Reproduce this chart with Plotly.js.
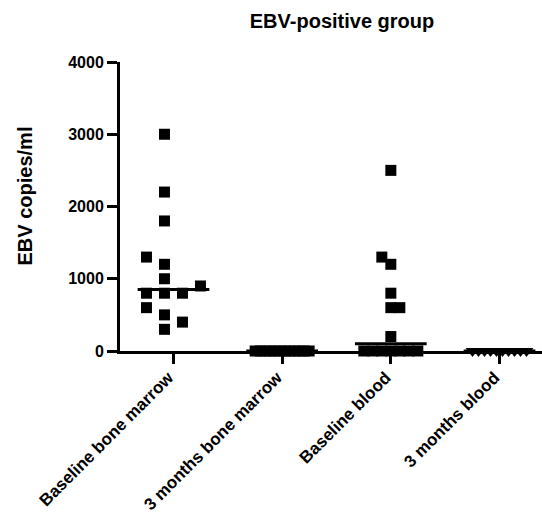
<!DOCTYPE html>
<html>
<head>
<meta charset="utf-8">
<script src="https://cdn.plot.ly/plotly-3.0.1.min.js"></script>
<style>html,body{margin:0;padding:0;background:#fff;}#chart{width:542px;height:515px;}</style>
</head>
<body>
<div id="chart"></div>
<script>
// ---- data ----
const categories = ["Baseline bone marrow", "3 months bone marrow", "Baseline blood", "3 months blood"];
const baselineMarrow = [3000, 2200, 1800, 1300, 1200, 1000, 900, 800, 800, 800, 600, 500, 400, 300];
const monthsMarrow = [0, 0, 0, 0, 0, 0, 0, 0, 0, 0, 0, 0];
const baselineBlood = [2500, 1300, 1200, 800, 600, 600, 200, 0, 0, 0, 0, 0, 0, 0];
const monthsBlood = [0, 0, 0, 0, 0, 0, 0, 0, 0, 0];
const yTicks = [0, 1000, 2000, 3000, 4000];
const title = "EBV-positive group";
const yTitle = "EBV copies/ml";

// ---- layout geometry ----
const W = 542, H = 515;
const M = {l: 120, r: 0, t: 62, b: 164};
const plotW = W - M.l - M.r, plotH = H - M.t - M.b;
const xRange = [-0.492, 3.391];
const yRange = [0, 4000];
const pxPerCat = plotW / (xRange[1] - xRange[0]);
const pxPerY = plotH / (yRange[1] - yRange[0]);

// deterministic beeswarm spread (pixels -> category units)
function swarm(vals, step, vth, maxHalf) {
  const idx = vals.map((v, i) => i).sort((a, b) => vals[a] - vals[b]);
  const placed = [], out = new Array(vals.length);
  let pos = 0, neg = 0;
  for (const i of idx) {
    const y = vals[i] * pxPerY;
    const near = placed.filter(p => Math.abs(p.y - y) < vth);
    const cands = [0];
    near.forEach(p => cands.push(p.x + step, p.x - step));
    const ok = cands.filter(c => near.every(p => Math.abs(p.x - c) >= step - 1e-9));
    ok.sort((a, b) => (Math.abs(a) - Math.abs(b)) || (pos <= neg ? b - a : a - b));
    const x = ok[0];
    if (x > 0) pos++; else if (x < 0) neg++;
    placed.push({x, y}); out[i] = x;
  }
  const mn = Math.min(...out), mx = Math.max(...out);
  const half = Math.max(Math.abs(mn), Math.abs(mx));
  let res = out;
  if (half > maxHalf) {
    const c = (mn + mx) / 2, k = maxHalf / ((mx - mn) / 2);
    res = out.map(x => (x - c) * k);
  }
  return res.map(x => x / pxPerCat);
}
function median(a) {
  const s = [...a].sort((x, y) => x - y), n = s.length;
  return n % 2 ? s[(n - 1) / 2] : (s[n / 2 - 1] + s[n / 2]) / 2;
}

const groups = [baselineMarrow, monthsMarrow, baselineBlood, monthsBlood];
const symbols = ["square", "square", "square", "triangle-down"];
const traces = [];
groups.forEach((g, ci) => {
  const off = swarm(g, 14, 10.5, 27);
  traces.push({
    type: "scatter", mode: "markers", cliponaxis: false, showlegend: false,
    x: g.map((v, i) => ci + off[i]), y: g,
    marker: {symbol: symbols[ci], size: ci === 3 ? 12 : 11, color: "#000", line: {width: 0}},
    hoverinfo: "y"
  });
  const m = median(g);
  traces.push({
    type: "scatter", mode: "lines", cliponaxis: false, showlegend: false,
    x: [ci - 0.33, ci + 0.33], y: [m, m],
    line: {color: "#000", width: 3}, hoverinfo: "skip"
  });
});

const FONT = "Liberation Sans, Arial, Helvetica, sans-serif";
const layout = {
  width: W, height: H,
  margin: M,
  paper_bgcolor: "#fff", plot_bgcolor: "#fff",
  showlegend: false,
  title: {
    text: title, x: 342 / W, xref: "container", xanchor: "center",
    y: 1 - 21 / H, yref: "container", yanchor: "middle",
    font: {family: FONT, size: 20, weight: "bold", color: "#000"}
  },
  xaxis: {
    range: xRange, type: "linear",
    tickmode: "array", tickvals: categories.map((c, i) => i), ticktext: categories,
    tickangle: -45, ticks: "outside", ticklen: 10, tickwidth: 3, tickcolor: "#000",
    ticklabelshift: -5, ticklabelstandoff: -3,
    showline: true, linewidth: 3, linecolor: "#000", mirror: false,
    showgrid: false, zeroline: false, layer: "below traces",
    tickfont: {family: FONT, size: 17, weight: "bold", color: "#000"}
  },
  yaxis: {
    range: yRange, tickmode: "array", tickvals: yTicks, ticktext: yTicks.map(String),
    ticks: "outside", ticklen: 10, tickwidth: 3, tickcolor: "#000",
    showline: true, linewidth: 3, linecolor: "#000",
    showgrid: false, zeroline: false, layer: "below traces",
    tickfont: {family: FONT, size: 16, weight: "bold", color: "#000"}
  },
  annotations: [{
    text: yTitle, textangle: -90, showarrow: false,
    xref: "paper", yref: "paper",
    x: (24 - M.l) / plotW, y: (plotH + M.t - 196.5) / plotH,
    xanchor: "center", yanchor: "middle",
    font: {family: FONT, size: 20, weight: "bold", color: "#000"}
  }]
};

Plotly.newPlot("chart", traces, layout, {staticPlot: true, displayModeBar: false});
</script>
</body>
</html>
